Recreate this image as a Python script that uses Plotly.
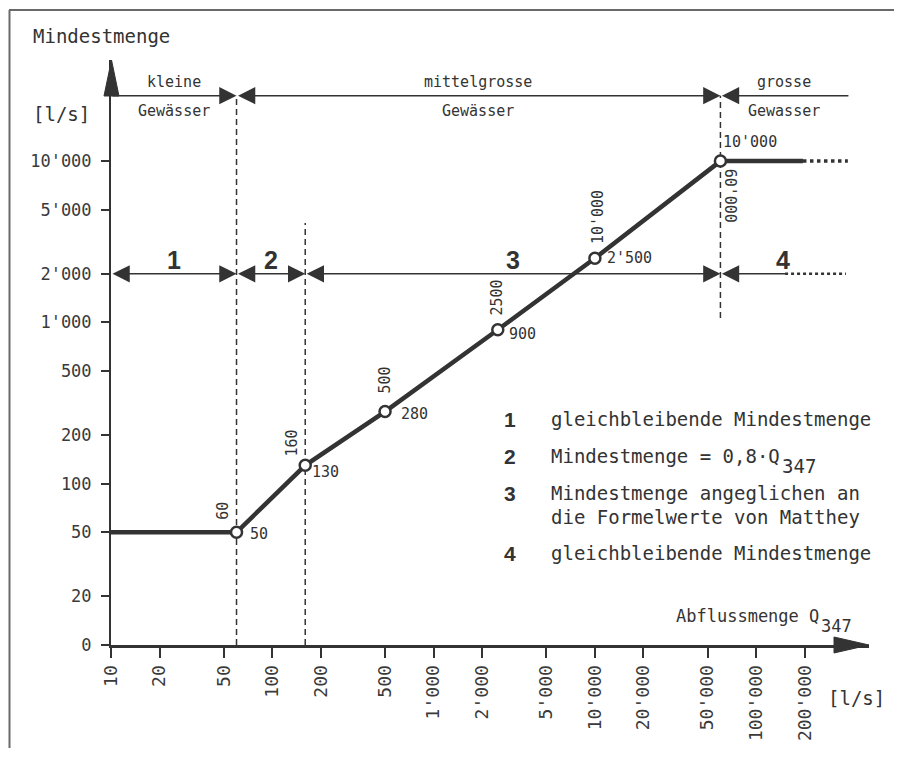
import numpy as np
import plotly.graph_objects as go

# ---------------- data ----------------
q347 = [10, 60, 160, 500, 2500, 10000, 60000, 195000]
mindest = [50, 50, 130, 280, 900, 2500, 10000, 10000]
dotted_q = [195000, 370000]
dotted_m = [10000, 10000]

marker_q = [60, 160, 500, 2500, 10000, 60000]
marker_m = [50, 130, 280, 900, 2500, 10000]
q_labels = ["60", "160", "500", "2500", "10'000", "60'000"]
m_labels = ["50", "130", "280", "900", "2'500", "10'000"]

x_tickvals = [10, 20, 50, 100, 200, 500, 1000, 2000, 5000, 10000, 20000, 50000, 100000, 200000]
x_ticktext = ["10", "20", "50", "100", "200", "500", "1'000", "2'000", "5'000",
              "10'000", "20'000", "50'000", "100'000", "200'000"]
y_tickvals = [10, 20, 50, 100, 200, 500, 1000, 2000, 5000, 10000]
y_ticktext = ["0", "20", "50", "100", "200", "500", "1'000", "2'000", "5'000", "10'000"]

class_bounds = [10, 60, 60000, 373000]
class_top = ["kleine", "mittelgrosse", "grosse"]
class_bottom = ["Gewässer", "Gewässer", "Gewasser"]

section_bounds = [10, 60, 160, 60000, 151000]
section_labels = ["1", "2", "3", "4"]
section_dotted_end = 360000

legend_nums = ["1", "2", "3", "", "4"]
legend_texts = ["gleichbleibende Mindestmenge",
                "Mindestmenge = 0,8·Q",
                "Mindestmenge angeglichen an",
                "die Formelwerte von Matthey",
                "gleichbleibende Mindestmenge"]

# ---------------- layout constants ----------------
OFF = 8                      # default page body margin
W, H = 894, 740
L, T = 103, 52
PW, PH = 758, 585
R, B = W - L - PW, H - T - PH
DEC = 161.3
XR = [1, 1 + PW / DEC]
YR = [1, 1 + PH / DEC]
DARK = "#333333"
MONO = "DejaVu Sans Mono"
BOLD = "Liberation Sans"
BAND_TOP = 10 ** (YR[0] + (645 - 95.7) / DEC)
BAND_MID = 2000


def px(xp):
    """page x pixel -> paper fraction"""
    return (xp - OFF - L) / PW


def py(yp):
    """page y pixel -> paper fraction"""
    return (T + PH - (yp - OFF)) / PH


fig = go.Figure()

# dashed verticals
dash_lines = [([60, 60], [10, BAND_TOP]),
              ([160, 160], [10, 10 ** (1 + (645 - 223) / DEC)]),
              ([60000, 60000], [10 ** (1 + (645 - 318) / DEC), BAND_TOP])]
for xs, ys in dash_lines:
    fig.add_trace(go.Scatter(x=xs, y=ys, mode="lines",
                             line=dict(color=DARK, width=1.5, dash="6px,4px"),
                             hoverinfo="skip", showlegend=False))

# dotted extension of section band
fig.add_trace(go.Scatter(x=[section_bounds[-1], section_dotted_end], y=[BAND_MID, BAND_MID],
                         mode="lines", line=dict(color=DARK, width=2.5, dash="dot"),
                         hoverinfo="skip", showlegend=False))

# main thick line
fig.add_trace(go.Scatter(x=q347, y=mindest, mode="lines",
                         line=dict(color=DARK, width=4.5),
                         hoverinfo="skip", showlegend=False))
fig.add_trace(go.Scatter(x=dotted_q, y=dotted_m, mode="lines",
                         line=dict(color=DARK, width=3.5, dash="dot"),
                         hoverinfo="skip", showlegend=False))
fig.add_trace(go.Scatter(x=marker_q, y=marker_m, mode="markers",
                         marker=dict(symbol="circle", size=11, color="white",
                                     line=dict(color=DARK, width=2.5)),
                         hoverinfo="skip", showlegend=False))

ann = []


def band_arrow(xa, xb, yv, head_start, head_end):
    side = []
    if head_end:
        side.append("end")
    if head_start:
        side.append("start")
    return dict(x=float(np.log10(xb)), y=float(np.log10(yv)),
                ax=float(np.log10(xa)), ay=float(np.log10(yv)),
                xref="x", yref="y", axref="x", ayref="y", text="", showarrow=True,
                arrowhead=2, startarrowhead=2, arrowsize=2.3, startarrowsize=2.3,
                arrowwidth=1.5, arrowcolor=DARK,
                arrowside="+".join(side) if side else "none",
                standoff=0, startstandoff=0)


def txt(xp, yp, text, size, xanchor="left", family=MONO, **kw):
    return dict(x=px(xp), y=py(yp), xref="paper", yref="paper", text=text,
                showarrow=False, xanchor=xanchor, yanchor="middle",
                font=dict(family=family, size=size, color=DARK), **kw)


# top class band
ann.append(band_arrow(class_bounds[0], class_bounds[1], BAND_TOP, False, True))
ann.append(band_arrow(class_bounds[1], class_bounds[2], BAND_TOP, True, True))
ann.append(band_arrow(class_bounds[2], class_bounds[3], BAND_TOP, True, False))
for i in range(3):
    xc = (np.log10(class_bounds[i]) + np.log10(class_bounds[i + 1])) / 2
    for t, ys in ((class_top[i], 14), (class_bottom[i], -15)):
        ann.append(dict(x=float(xc), y=float(np.log10(BAND_TOP)), xref="x", yref="y",
                        text=t, showarrow=False, yshift=ys,
                        xanchor="center", yanchor="middle",
                        font=dict(family=MONO, size=15, color=DARK)))

# section band
for i in range(4):
    ann.append(band_arrow(section_bounds[i], section_bounds[i + 1], BAND_MID,
                          True, i < 3))
for i in range(4):
    if i < 3:
        xc = (np.log10(section_bounds[i]) + np.log10(section_bounds[i + 1])) / 2
    else:
        xc = (np.log10(section_bounds[3]) + np.log10(section_dotted_end)) / 2
    ann.append(dict(x=float(xc), y=float(np.log10(BAND_MID)), xref="x", yref="y",
                    text="<b>%s</b>" % section_labels[i], showarrow=False, yshift=14,
                    xanchor="center", yanchor="middle",
                    font=dict(family=BOLD, size=25, color=DARK)))

# point labels
q_off = [(-13, -21), (-13, -22), (0, -31), (-1, -32), (3, -41), (9, 35)]
q_ang = [-90, -90, -90, -90, -90, 90]
m_off = [(22, 2), (20, 7), (29, 2), (25, 4), (35, 0), (30, -19)]
for i in range(len(marker_q)):
    xl, yl = float(np.log10(marker_q[i])), float(np.log10(marker_m[i]))
    ann.append(dict(x=xl, y=yl, xref="x", yref="y", text=q_labels[i], showarrow=False,
                    textangle=q_ang[i], xshift=q_off[i][0], yshift=-q_off[i][1],
                    xanchor="center", yanchor="middle",
                    font=dict(family=MONO, size=15, color=DARK)))
    ann.append(dict(x=xl, y=yl, xref="x", yref="y", text=m_labels[i], showarrow=False,
                    xshift=m_off[i][0], yshift=-m_off[i][1],
                    xanchor="center", yanchor="middle",
                    font=dict(family=MONO, size=15, color=DARK)))

# legend block
leg_y = [419, 456, 493, 517, 553]
for i in range(5):
    if legend_nums[i]:
        ann.append(txt(510, leg_y[i], "<b>%s</b>" % legend_nums[i], 21,
                       xanchor="center", family=BOLD))
    ann.append(txt(549, leg_y[i], legend_texts[i], 19))
ann.append(txt(780, 466, "347", 19))

# axis titles
ann.append(txt(31, 36, "Mindestmenge", 19))
ann.append(txt(31, 114, "[l/s]", 19))
ann.append(txt(821, 616, "Abflussmenge Q", 17, xanchor="right"))
ann.append(txt(819, 626, "347", 17))
ann.append(txt(826, 698, "[l/s]", 19))

shapes = [
    # frame (top and left)
    dict(type="line", xref="paper", yref="paper", x0=px(9), x1=px(W + OFF + 2), y0=py(10), y1=py(10),
         line=dict(color="#6a6a6a", width=2)),
    dict(type="line", xref="paper", yref="paper", x0=px(9.5), x1=px(9.5), y0=py(10), y1=py(H + OFF + 2),
         line=dict(color="#6a6a6a", width=2)),
    # axis arrowheads
    dict(type="path", xref="paper", yref="paper",
         path="M %f,%f L %f,%f L %f,%f Z" % (px(104), py(96), px(111.5), py(60), px(119), py(96)),
         fillcolor=DARK, line=dict(color=DARK, width=1)),
    dict(type="path", xref="paper", yref="paper",
         path="M %f,%f L %f,%f L %f,%f Z" % (px(834), py(637), px(869), py(645), px(834), py(653)),
         fillcolor=DARK, line=dict(color=DARK, width=1)),
]

fig.update_layout(
    width=W, height=H,
    margin=dict(l=L, r=R, t=T, b=B, autoexpand=False),
    paper_bgcolor="white", plot_bgcolor="white",
    showlegend=False,
    annotations=ann, shapes=shapes,
    xaxis=dict(type="log", range=XR, showgrid=False, zeroline=False, automargin=False,
               showline=True, linecolor=DARK, linewidth=3,
               tickvals=x_tickvals, ticktext=x_ticktext, tickangle=-90,
               ticks="outside", ticklen=10, tickwidth=2, tickcolor=DARK,
               ticklabelstandoff=0,
               tickfont=dict(family=MONO, size=18, color="#3a3a3a")),
    yaxis=dict(type="log", range=YR, showgrid=False, zeroline=False, automargin=False,
               showline=True, linecolor=DARK, linewidth=2,
               tickvals=y_tickvals, ticktext=y_ticktext,
               ticks="outside", ticklen=8, tickwidth=2, tickcolor=DARK,
               ticklabelstandoff=6,
               tickfont=dict(family=MONO, size=17, color="#3a3a3a")),
)

fig.write_html("out.html")
